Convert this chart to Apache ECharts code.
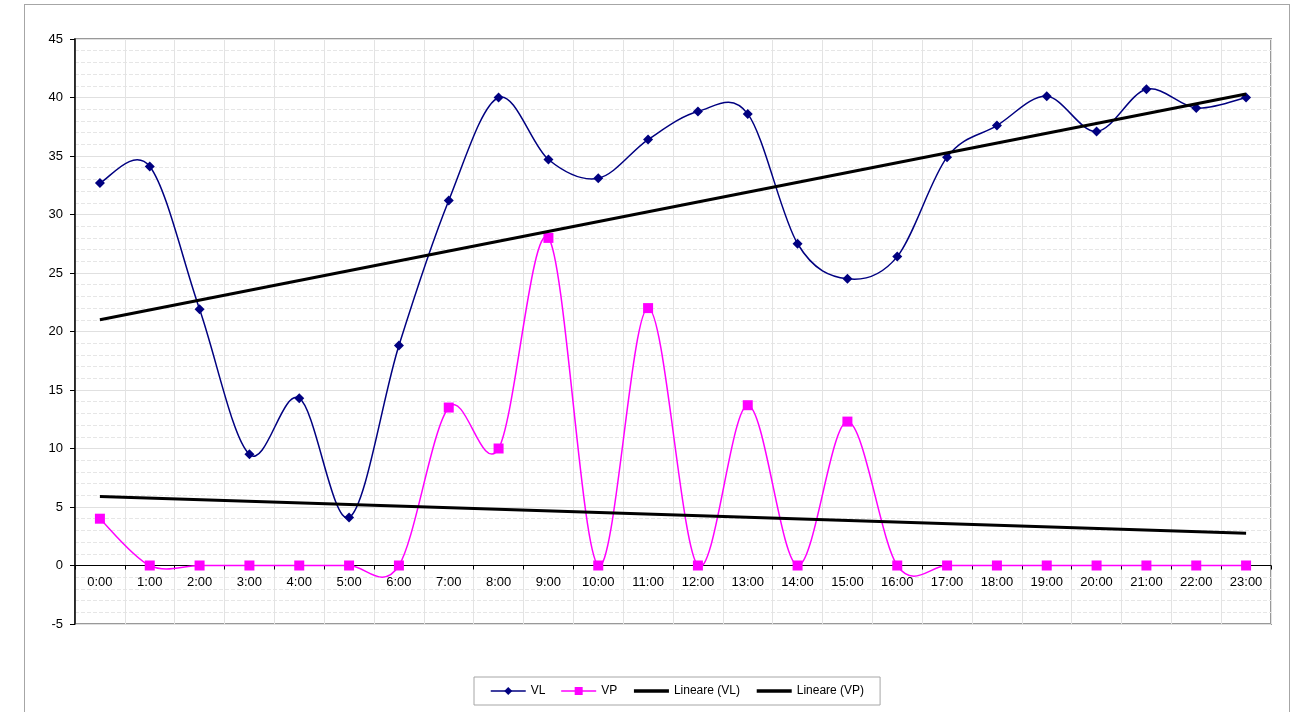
<!DOCTYPE html>
<html>
<head>
<meta charset="utf-8">
<script src="https://cdn.jsdelivr.net/npm/echarts@6/dist/echarts.min.js"></script>
<style>
html,body{margin:0;padding:0;background:#fff;}
#frame{position:absolute;left:24px;top:4px;width:1266px;height:720px;border:1px solid #a6a6a6;box-sizing:border-box;}
#chart{position:absolute;left:0;top:0;width:1294px;height:712px;}
</style>
</head>
<body>
<div id="frame"></div>
<div id="chart"></div>
<script>
const categories = ['0:00','1:00','2:00','3:00','4:00','5:00','6:00','7:00','8:00','9:00','10:00','11:00','12:00','13:00','14:00','15:00','16:00','17:00','18:00','19:00','20:00','21:00','22:00','23:00'];
const VL = [32.7, 34.1, 21.9, 9.5, 14.3, 4.1, 18.8, 31.2, 40.0, 34.7, 33.1, 36.4, 38.8, 38.6, 27.5, 24.5, 26.4, 34.9, 37.6, 40.1, 37.1, 40.7, 39.1, 40.0];
const VP = [4.0, 0, 0, 0, 0, 0, 0, 13.5, 10.0, 28.0, 0, 22.0, 0, 13.7, 0, 12.3, 0, 0, 0, 0, 0, 0, 0, 0];
// trend line endpoints (first and last category)
const trendVL = [21.0, 40.3];
const trendVP = [5.9, 2.75];
const yTicks = { min: -5, max: 45, interval: 5 };

const font = 'Arial, "Liberation Sans", sans-serif';
const last = categories.length - 1;
const VL_COLOR = '#000080';
const VP_COLOR = '#ff00ff';

// Excel-like smoothed curve (Catmull-Rom Bezier) drawn through the axes' coordinates
function smoothCurve(values, color) {
  return function (params, api) {
    if (params.dataIndex !== 0) return null;
    const pts = values.map((v, i) => api.coord([i, v]));
    const n = pts.length;
    const P = (i) => pts[Math.max(0, Math.min(n - 1, i))];
    let d = 'M' + pts[0][0] + ' ' + pts[0][1];
    for (let i = 0; i < n - 1; i++) {
      const p0 = P(i - 1), p1 = P(i), p2 = P(i + 1), p3 = P(i + 2);
      const c1x = p1[0] + (p2[0] - p0[0]) / 6, c1y = p1[1] + (p2[1] - p0[1]) / 6;
      const c2x = p2[0] - (p3[0] - p1[0]) / 6, c2y = p2[1] - (p3[1] - p1[1]) / 6;
      d += ' C' + c1x + ' ' + c1y + ' ' + c2x + ' ' + c2y + ' ' + p2[0] + ' ' + p2[1];
    }
    return {
      type: 'path',
      shape: { pathData: d },
      style: { fill: 'none', stroke: color, lineWidth: 1.5 },
      silent: true
    };
  };
}

const chart = echarts.init(document.getElementById('chart'), null, { renderer: 'canvas' });
chart.setOption({
  animation: false,
  backgroundColor: 'transparent',
  textStyle: { fontFamily: font, color: '#000' },
  grid: { left: 75, top: 39, right: 23, bottom: 88, show: true, borderColor: '#999', borderWidth: 2, backgroundColor: 'transparent' },
  legend: {
    left: 474, top: 677,
    padding: [8, 16, 8, 16],
    itemGap: 15, itemWidth: 35, itemHeight: 10,
    borderColor: '#a6a6a6', borderWidth: 1,
    textStyle: { fontFamily: font, fontSize: 12, color: '#000' },
    data: [
      { name: 'VL', lineStyle: { color: VL_COLOR, width: 1.5, opacity: 1 } },
      { name: 'VP', lineStyle: { color: VP_COLOR, width: 1.5, opacity: 1 } },
      { name: 'Lineare (VL)', itemStyle: { opacity: 0 }, lineStyle: { color: '#000', width: 3.5, opacity: 1 } },
      { name: 'Lineare (VP)', itemStyle: { opacity: 0 }, lineStyle: { color: '#000', width: 3.5, opacity: 1 } }
    ]
  },
  xAxis: {
    type: 'category',
    data: categories,
    boundaryGap: true,
    axisLine: { onZero: true, lineStyle: { color: '#000', width: 1 } },
    axisTick: { show: true, length: 4, lineStyle: { color: '#000' } },
    axisLabel: { fontFamily: font, fontSize: 13, color: '#000', margin: -48, interval: 0 },
    splitLine: { show: true, interval: 0, lineStyle: { color: '#e3e3e3', width: 1 } }
  },
  yAxis: {
    type: 'value',
    min: yTicks.min, max: yTicks.max, interval: yTicks.interval,
    axisLine: { show: true, onZero: false, lineStyle: { color: '#000', width: 1.5 } },
    axisTick: { show: true, length: 5, lineStyle: { color: '#000' } },
    axisLabel: { fontFamily: font, fontSize: 13, color: '#000', margin: 12 },
    splitLine: { show: true, lineStyle: { color: '#e0e0e0', width: 1 } },
    minorTick: { show: false, splitNumber: 5 },
    minorSplitLine: { show: true, lineStyle: { color: '#e6e6e6', type: [4, 2], width: 1 } }
  },
  series: [
    {
      type: 'custom', coordinateSystem: 'cartesian2d', data: [[0, 0]],
      renderItem: smoothCurve(VL, VL_COLOR), z: 3, silent: true
    },
    {
      type: 'custom', coordinateSystem: 'cartesian2d', data: [[0, 0]],
      renderItem: smoothCurve(VP, VP_COLOR), z: 2, silent: true
    },
    {
      name: 'VL', type: 'line', data: VL,
      symbol: 'diamond', symbolSize: 10,
      lineStyle: { color: VL_COLOR, width: 1.5, opacity: 0 },
      itemStyle: { color: VL_COLOR }, z: 4
    },
    {
      name: 'VP', type: 'line', data: VP,
      symbol: 'rect', symbolSize: 10,
      lineStyle: { color: VP_COLOR, width: 1.5, opacity: 0 },
      itemStyle: { color: VP_COLOR }, z: 3
    },
    {
      name: 'Lineare (VL)', type: 'line',
      data: [[0, trendVL[0]], [last, trendVL[1]]],
      symbol: 'none', showSymbol: false,
      lineStyle: { color: '#000', width: 3 }, itemStyle: { color: '#000' }, z: 5
    },
    {
      name: 'Lineare (VP)', type: 'line',
      data: [[0, trendVP[0]], [last, trendVP[1]]],
      symbol: 'none', showSymbol: false,
      lineStyle: { color: '#000', width: 3 }, itemStyle: { color: '#000' }, z: 5
    }
  ]
});
</script>
</body>
</html>
